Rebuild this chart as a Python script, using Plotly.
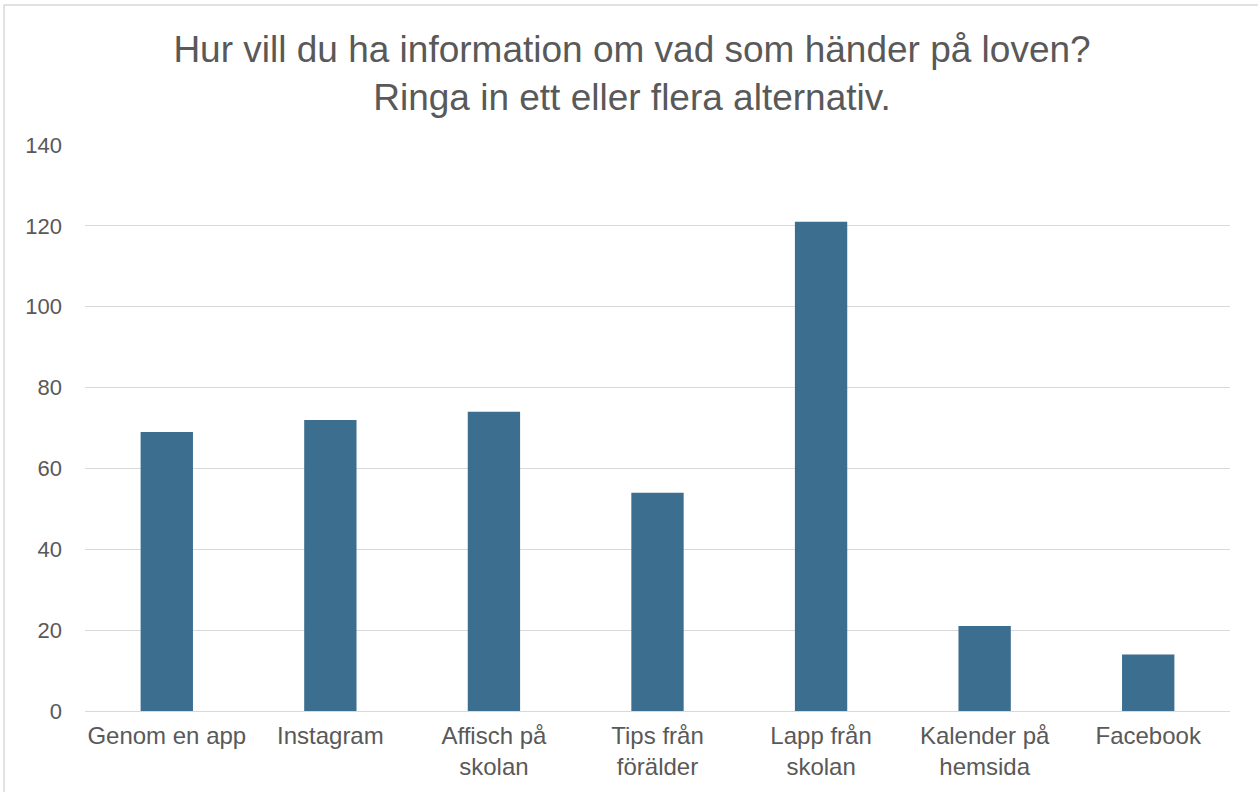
import plotly.graph_objects as go

categories = ["Genom en app", "Instagram", "Affisch på<br>skolan", "Tips från<br>förälder",
              "Lapp från<br>skolan", "Kalender på<br>hemsida", "Facebook"]
values = [69, 72, 74, 54, 121, 21, 14]
y_ticks = [0, 20, 40, 60, 80, 100, 120, 140]

title_text = "Hur vill du ha information om vad som händer på loven?<br>Ringa in ett eller flera alternativ."

fig = go.Figure(go.Bar(x=categories, y=values, marker=dict(color="#3c6e8f", line=dict(width=0))))

fig.update_layout(
    width=1258, height=792,
    margin=dict(l=85, r=28, t=145, b=81, autoexpand=False),
    paper_bgcolor="white", plot_bgcolor="white",
    bargap=0.68,
    showlegend=False,
    font=dict(family="Liberation Sans, Arial", color="#595959", size=24),
    title=dict(text=title_text, x=0.5024, xref="container", xanchor="center", y=0.922, yanchor="top",
               font=dict(size=37, color="#595959")),
    xaxis=dict(showgrid=False, showline=False, tickfont=dict(size=24, color="#595959"),
               ticks="outside", ticklen=3, tickcolor="rgba(0,0,0,0)", automargin=False),
    yaxis=dict(range=[0, 140], tickvals=y_ticks, showgrid=True, gridcolor="#d9d9d9", gridwidth=1,
               zeroline=True, zerolinecolor="#d9d9d9", zerolinewidth=1, showline=False,
               tickfont=dict(size=22, color="#595959"), ticklabelstandoff=22, automargin=False),
    shapes=[dict(type="rect", xref="paper", yref="paper",
                 x0=-0.0707, x1=1.03, y0=-0.16, y1=1.2473,
                 line=dict(color="#d9d9d9", width=1.5), fillcolor="rgba(0,0,0,0)", layer="below")],
)

fig.write_html("out.html", config={"displayModeBar": False},
               post_script="document.body.style.margin='0';document.body.style.overflow='hidden';")
